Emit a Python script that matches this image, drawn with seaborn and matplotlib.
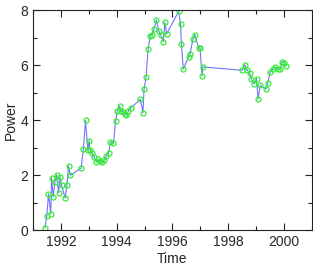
import numpy as np
import pandas as pd
import seaborn as sns
import matplotlib
matplotlib.use("Agg")
import matplotlib.pyplot as plt
from matplotlib.ticker import MultipleLocator

# values
time = [
	1991.42, 1991.49, 1991.55, 1991.63, 1991.66, 1991.72, 1991.78, 1991.84, 1991.91, 1991.96,
	1992.02, 1992.15, 1992.21, 1992.27, 1992.33, 1992.72, 1992.80, 1992.88, 1992.96, 1993.01,
	1993.04, 1993.11, 1993.18, 1993.27, 1993.34, 1993.40, 1993.48, 1993.55, 1993.63, 1993.71,
	1993.77, 1993.88, 1993.96, 1994.02, 1994.11, 1994.14, 1994.22, 1994.29, 1994.35, 1994.42,
	1994.50, 1994.85, 1994.94, 1994.98, 1995.05, 1995.13, 1995.20, 1995.26, 1995.34, 1995.42,
	1995.51, 1995.58, 1995.67, 1995.73, 1995.79, 1996.22, 1996.29, 1996.32, 1996.39, 1996.58,
	1996.63, 1996.74, 1996.80, 1996.94, 1996.99, 1997.06, 1997.09, 1998.51, 1998.59, 1998.68,
	1998.77, 1998.83, 1998.94, 1999.02, 1999.07, 1999.15, 1999.35, 1999.42, 1999.50, 1999.60,
	1999.69, 1999.78, 1999.86, 1999.93, 2000.01, 2000.08]

power = [
	0.08, 0.52, 1.32, 0.59, 1.90, 1.21, 1.75, 2.01, 1.36, 1.93,
	1.63, 1.16, 1.63, 2.33, 1.99, 2.25, 2.93, 3.99, 2.90, 3.25,
	2.90, 2.81, 2.67, 2.47, 2.57, 2.51, 2.47, 2.53, 2.69, 2.79,
	3.20, 3.15, 3.96, 4.34, 4.51, 4.33, 4.29, 4.23, 4.18, 4.33,
	4.44, 4.75, 4.27, 5.12, 5.55, 6.59, 7.07, 7.09, 7.32, 7.64,
	7.24, 7.10, 6.85, 7.55, 7.13, 7.95, 7.49, 6.77, 5.85, 6.31,
	6.41, 6.96, 7.11, 6.63, 6.62, 5.61, 5.93, 5.81, 6.01, 5.81,
	5.72, 5.50, 5.31, 5.51, 4.77, 5.26, 5.12, 5.33, 5.73, 5.84,
	5.93, 5.85, 5.85, 6.11, 6.09, 5.96]

df = pd.DataFrame({"Time": time, "Power": power})

sns.set_style("ticks")
plt.rcParams["font.family"] = ["Liberation Sans", "DejaVu Sans"]

fig = plt.figure(figsize=(3.13, 2.71), dpi=100)
ax = fig.add_axes([0.106, 0.151, 0.89, 0.812])

sns.lineplot(data=df, x="Time", y="Power", sort=False, estimator=None, ax=ax,
	color="#7373ff", linewidth=0.8, marker="o", markersize=3.6,
	markerfacecolor="none", markeredgecolor="#33ee33", markeredgewidth=0.9)

ax.set_xlim(1991, 2001)
ax.set_ylim(0, 8)
ax.xaxis.set_major_locator(MultipleLocator(2))
ax.xaxis.set_minor_locator(MultipleLocator(1))
ax.yaxis.set_major_locator(MultipleLocator(2))
ax.yaxis.set_minor_locator(MultipleLocator(1))
ax.tick_params(which="both", direction="in", top=True, right=True, labelsize=10, width=0.8, color="#222222")
ax.tick_params(which="major", length=5)
ax.tick_params(which="minor", length=3)
for s in ax.spines.values():
	s.set_linewidth(0.8)
	s.set_color("#222222")

ax.set_xlabel("Time", fontsize=10, labelpad=2)
ax.set_ylabel("Power", fontsize=10, labelpad=2)

fig.savefig("out.png", dpi=100)
